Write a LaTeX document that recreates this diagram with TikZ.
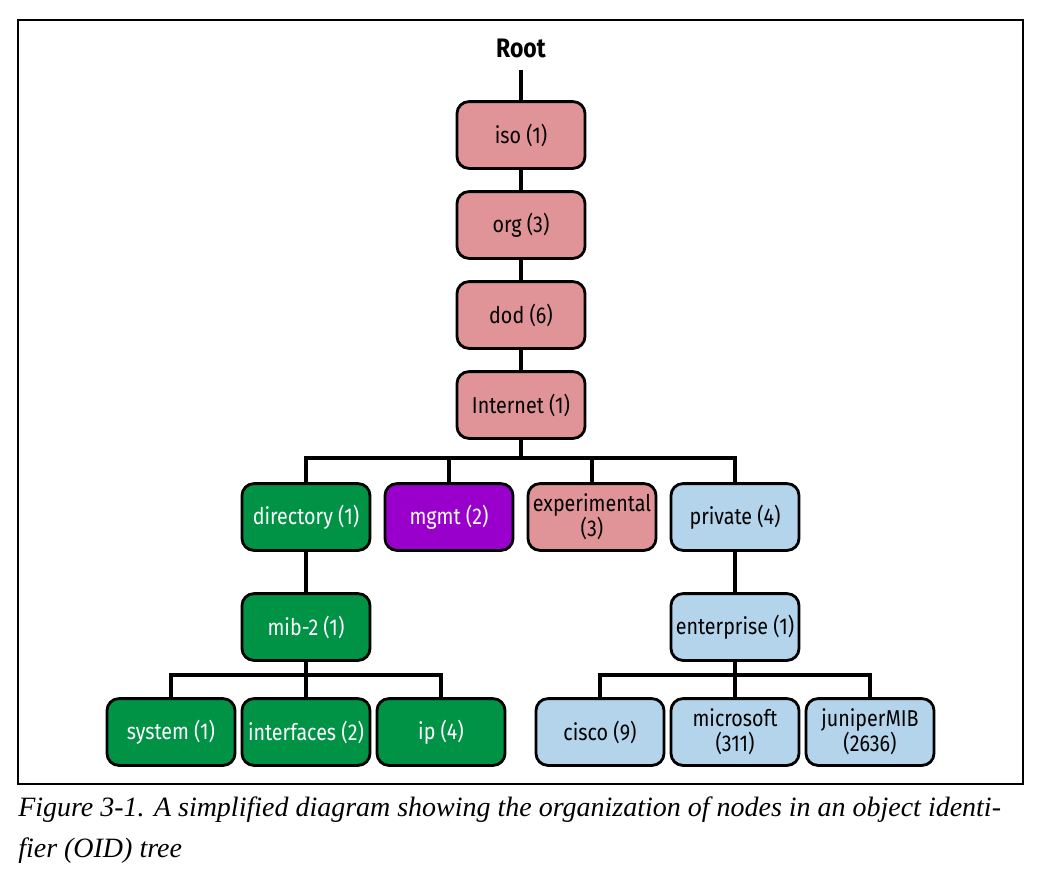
\documentclass[tikz,border=0pt]{standalone}
\usepackage{fontspec}
\setmainfont{Liberation Serif}
\newfontfamily\boxfont[FakeStretch=0.86]{Fira Sans}
\usepackage{tikz}
\usetikzlibrary{calc}

\definecolor{oidpink}{RGB}{224,148,152}
\definecolor{oidgreen}{RGB}{0,146,69}
\definecolor{oidpurple}{RGB}{153,0,204}
\definecolor{oidblue}{RGB}{179,212,234}

\tikzset{
  oid/.style={draw=black, line width=2pt, rounded corners=0.3cm, minimum width=3.2cm,
    minimum height=1.67cm, align=center, inner sep=1pt,
    font=\boxfont\fontsize{16.3}{17.8}\selectfont},
  pinkbox/.style={oid, fill=oidpink},
  greenbox/.style={oid, fill=oidgreen, text=white},
  purplebox/.style={oid, fill=oidpurple, text=white},
  bluebox/.style={oid, fill=oidblue},
  link/.style={line width=2.8pt}
}

\begin{document}
\begin{tikzpicture}[x=0.025cm, y=-0.025cm]
\useasboundingbox (0,0) rectangle (1040,869);
\draw[line width=1pt] (18,20) rectangle (1023,784);

\node (root) at (521,48) {\boxfont\fontseries{sb}\selectfont\fontsize{19}{22}\selectfont Root};
\node[pinkbox] (iso) at (521,135) {iso (1)};
\node[pinkbox] (org) at (521,225) {org (3)};
\node[pinkbox] (dod) at (521,315) {dod (6)};
\node[pinkbox] (inet) at (521,405) {Internet (1)};

\node[greenbox] (dir) at (306,517) {directory (1)};
\node[purplebox] (mgmt) at (449,517) {mgmt (2)};
\node[pinkbox] (exp) at (592,517) {experimental\\(3)};
\node[bluebox] (priv) at (735,517) {private (4)};

\node[greenbox] (mib) at (306,627) {mib-2 (1)};
\node[bluebox] (ent) at (735,627) {enterprise (1)};

\node[greenbox] (sys) at (171,732) {system (1)};
\node[greenbox] (ifs) at (306,732) {interfaces (2)};
\node[greenbox] (ip) at (441,732) {ip (4)};
\node[bluebox] (cisco) at (600,732) {cisco (9)};
\node[bluebox] (msft) at (735,732) {microsoft\\(311)};
\node[bluebox] (juni) at (870,732) {juniperMIB\\(2636)};

\coordinate (bus1) at (521,458);
\coordinate (bus2) at (306,675);
\coordinate (bus3) at (735,675);

\draw[link] (root.south) ++(0,8) -- (iso.north);
\draw[link] (iso) -- (org);
\draw[link] (org) -- (dod);
\draw[link] (dod) -- (inet);
\foreach \c in {dir,mgmt,exp,priv}
  \draw[link] (inet.south) -- (bus1) -| (\c.north);
\draw[link] (dir) -- (mib);
\draw[link] (priv) -- (ent);
\foreach \c in {sys,ifs,ip}
  \draw[link] (mib.south) -- (bus2) -| (\c.north);
\foreach \c in {cisco,msft,juni}
  \draw[link] (ent.south) -- (bus3) -| (\c.north);

\node[anchor=north west, align=left, inner sep=0pt,
  font=\itshape\fontsize{19.9}{28.5}\selectfont] (cap) at (18,797)
  {Figure 3-1. A simplified diagram showing the organization of nodes in an object identi-\\
   fier (OID) tree};
\end{tikzpicture}
\end{document}
